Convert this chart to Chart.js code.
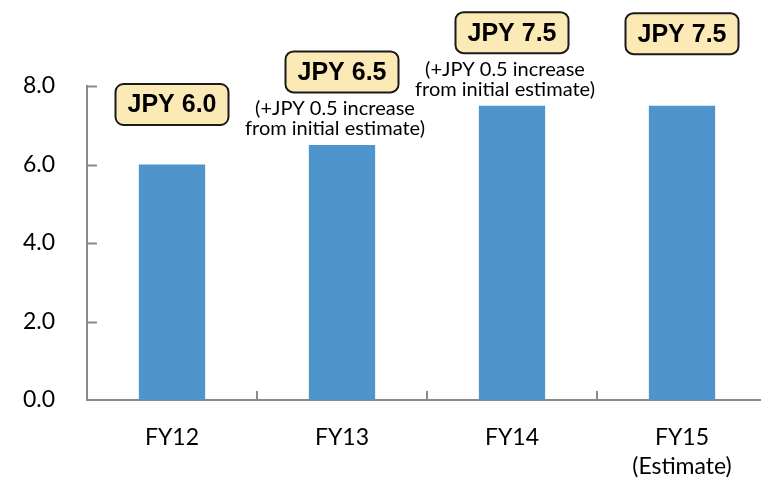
<!DOCTYPE html>
<html>
<head>
<meta charset="utf-8">
<script src="https://cdn.jsdelivr.net/npm/chart.js@4"></script>
<style>
  html, body { margin: 0; padding: 0; overflow: hidden; background: #fff; }
  canvas { display: block; }
</style>
</head>
<body>
<canvas id="dividend" width="768" height="479"></canvas>
<script>
// dividend per share
const categories = [['FY12'], ['FY13'], ['FY14'], ['FY15', '(Estimate)']];
const dividends = [6.0, 6.5, 7.5, 7.5];
const boxLabels = ['JPY 6.0', 'JPY 6.5', 'JPY 7.5', 'JPY 7.5'];
const noteLines = [
    [],
    ['(+JPY 0.5 increase', 'from initial estimate)'],
    ['(+JPY 0.5 increase', 'from initial estimate)'],
    []
];
const yTickValues = [0, 2, 4, 6, 8];

const axisColor = '#8a8a8a';
const labelFont = 'Lato, "Open Sans", sans-serif';

// boxes + notes over the bars, and the inward tick marks
const calloutPlugin = {
    id: 'callouts',
    afterDatasetsDraw(chart) {
        const ctx = chart.ctx;
        const x = chart.scales.x;
        const y = chart.scales.y;
        const area = chart.chartArea;

        ctx.save();
        ctx.strokeStyle = axisColor;
        ctx.lineWidth = 2;
        // y ticks point into the plot
        yTickValues.forEach(v => {
            const py = Math.round(y.getPixelForValue(v)) + 0.5;
            if (v === 0) return;
            ctx.beginPath();
            ctx.moveTo(area.left, py);
            ctx.lineTo(area.left + 10, py);
            ctx.stroke();
        });
        // x ticks between categories, pointing up
        for (let i = 1; i < categories.length; i++) {
            const px = Math.round((x.getPixelForValue(i - 1) + x.getPixelForValue(i)) / 2);
            ctx.beginPath();
            ctx.moveTo(px, area.bottom);
            ctx.lineTo(px, area.bottom - 9);
            ctx.stroke();
        }
        ctx.restore();

        const boxOffsets = [-60, -73, -73, -72];
        const noteOffsets = [-36, -16];
        const noteShift = -7;
        const boxW = 113, boxH = 41;

        dividends.forEach((v, i) => {
            const cx = x.getPixelForValue(i);
            const top = y.getPixelForValue(v);
            const cy = top + boxOffsets[i];

            ctx.save();
            ctx.beginPath();
            ctx.roundRect(cx - boxW / 2, cy - boxH / 2, boxW, boxH, 8);
            ctx.fillStyle = '#fbeab6';
            ctx.fill();
            ctx.lineWidth = 2;
            ctx.strokeStyle = '#1a1a1a';
            ctx.stroke();

            ctx.fillStyle = '#000';
            ctx.font = 'bold 25px "Liberation Sans", Arial, sans-serif';
            ctx.textAlign = 'center';
            ctx.textBaseline = 'middle';
            ctx.fillText(boxLabels[i], cx, cy + 1);

            ctx.font = '20px ' + labelFont;
            noteLines[i].forEach((line, j) => {
                ctx.fillText(line, cx + noteShift, top + noteOffsets[j]);
            });
            ctx.restore();
        });
    }
};

const ctx = document.getElementById('dividend').getContext('2d');

new Chart(ctx, {
    type: 'bar',
    data: {
        labels: categories,
        datasets: [
            {
                label: 'Dividend per share',
                data: dividends,
                backgroundColor: '#4f95cc',
                barPercentage: 0.39,
                categoryPercentage: 1.0,
            },
        ],
    },
    options: {
        responsive: false,
        animation: false,
        layout: {
            padding: { top: 86, right: 1, left: 0, bottom: 0 },
        },
        plugins: {
            legend: { display: false },
            tooltip: { enabled: false },
        },
        scales: {
            x: {
                grid: { display: false, drawTicks: false },
                border: { display: true, color: axisColor, width: 2 },
                ticks: {
                    color: '#000',
                    padding: 23,
                    font: { family: labelFont, size: 23, lineHeight: 1.25 },
                },
                afterFit: scale => { scale.height = 79; },
            },
            y: {
                min: 0,
                max: 8,
                grid: { display: false, drawTicks: false },
                border: { display: true, color: axisColor, width: 2 },
                ticks: {
                    stepSize: 2,
                    color: '#000',
                    padding: 32,
                    font: { family: labelFont, size: 23 },
                    callback: value => value.toFixed(1),
                },
                afterFit: scale => { scale.width = 87; },
            },
        },
    },
    plugins: [calloutPlugin],
});
</script>
</body>
</html>
